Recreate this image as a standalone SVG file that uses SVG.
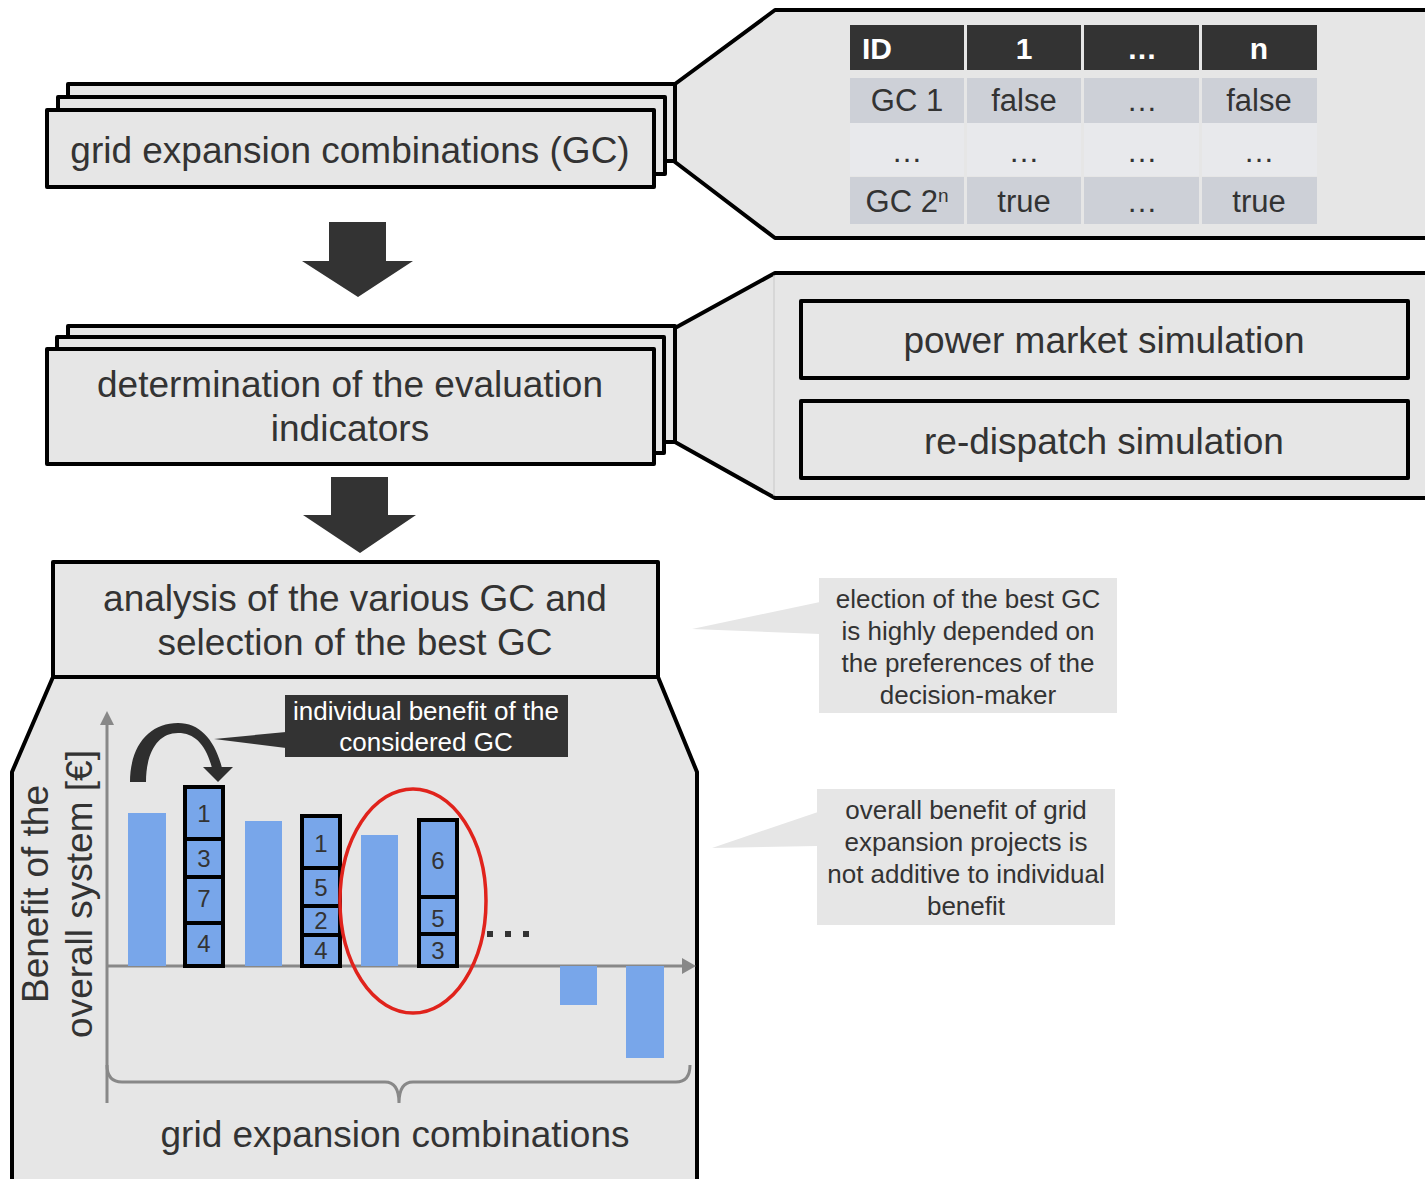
<svg xmlns="http://www.w3.org/2000/svg" width="1425" height="1179" viewBox="0 0 1425 1179">
<defs>
<style>
.box{fill:#e6e6e6;stroke:#000;stroke-width:4;stroke-linejoin:round}
.panel{fill:#e6e6e6;stroke:#000;stroke-width:4;stroke-linejoin:round}
.t36{font-family:"Liberation Sans",Arial,sans-serif;font-size:37px;fill:#333;text-anchor:middle}
.t30{font-family:"Liberation Sans",Arial,sans-serif;font-size:31px;fill:#333;text-anchor:middle}
.th{font-family:"Liberation Sans",Arial,sans-serif;font-size:30px;fill:#fff;font-weight:bold;text-anchor:middle}
.t24{font-family:"Liberation Sans",Arial,sans-serif;font-size:26px;fill:#333;text-anchor:middle}
.tn{font-family:"Liberation Sans",Arial,sans-serif;font-size:24px;fill:#333;text-anchor:middle}
.tw{font-family:"Liberation Sans",Arial,sans-serif;font-size:26px;fill:#fff;text-anchor:middle}
.bar{fill:#78a6ea}
.seg{fill:#78a6ea;stroke:#000;stroke-width:4}
.axis{stroke:#888;stroke-width:3;fill:none}
.darrow{fill:#333}
.hdr{fill:#333}
.r1{fill:#cdd0d7}
.r2{fill:#e8e9ec}
.call{fill:#e6e6e6}
</style>
</defs>

<!-- detail panels -->
<g id="panel-table">
<polygon class="panel" points="1430,10 775,10 675,84 675,162 775,238 1430,238"/>
<rect class="hdr" x="850" y="25" width="114" height="45"/>
<rect class="hdr" x="967" y="25" width="114" height="45"/>
<rect class="hdr" x="1084" y="25" width="115" height="45"/>
<rect class="hdr" x="1202" y="25" width="115" height="45"/>
<rect class="r1" x="850" y="78" width="114" height="45"/>
<rect class="r1" x="967" y="78" width="114" height="45"/>
<rect class="r1" x="1084" y="78" width="115" height="45"/>
<rect class="r1" x="1202" y="78" width="115" height="45"/>
<rect class="r2" x="850" y="123" width="114" height="53"/>
<rect class="r2" x="967" y="123" width="114" height="53"/>
<rect class="r2" x="1084" y="123" width="115" height="53"/>
<rect class="r2" x="1202" y="123" width="115" height="53"/>
<rect class="r1" x="850" y="177" width="114" height="47"/>
<rect class="r1" x="967" y="177" width="114" height="47"/>
<rect class="r1" x="1084" y="177" width="115" height="47"/>
<rect class="r1" x="1202" y="177" width="115" height="47"/>
<text class="th" x="862" y="59" style="text-anchor:start">ID</text>
<text class="th" x="1024" y="59">1</text>
<text class="th" x="1142" y="59">…</text>
<text class="th" x="1259" y="59">n</text>
<text class="t30" x="907" y="111">GC 1</text>
<text class="t30" x="1024" y="111">false</text>
<text class="t30" x="1142" y="111">…</text>
<text class="t30" x="1259" y="111">false</text>
<text class="t30" x="907" y="162">…</text>
<text class="t30" x="1024" y="162">…</text>
<text class="t30" x="1142" y="162">…</text>
<text class="t30" x="1259" y="162">…</text>
<text class="t30" x="907" y="212">GC 2<tspan font-size="19" dy="-10">n</tspan></text>
<text class="t30" x="1024" y="212">true</text>
<text class="t30" x="1142" y="212">…</text>
<text class="t30" x="1259" y="212">true</text>
</g>

<g id="panel-sim">
<polygon class="panel" points="1430,273 775,273 675,328 675,442 775,498 1430,498"/>
<line x1="774" y1="275" x2="774" y2="496" stroke="#c8c8c8" stroke-width="1"/>
</g>
<g id="power-market">
<rect class="box" x="801" y="301" width="607" height="77"/>
<text class="t36" x="1104" y="353">power market simulation</text>
</g>
<g id="re-dispatch">
<rect class="box" x="801" y="401" width="607" height="77"/>
<text class="t36" x="1104" y="454">re-dispatch simulation</text>
</g>

<!-- stack 1 -->
<g id="gc-node">
<rect class="box" x="68" y="84" width="607" height="77"/>
<rect class="box" x="58" y="97" width="607" height="77"/>
<rect class="box" x="47" y="110" width="607" height="77"/>
<text class="t36" x="350" y="163">grid expansion combinations (GC)</text>
</g>

<!-- stack 2 -->
<g id="indicators-node">
<rect class="box" x="68" y="326" width="607" height="116"/>
<rect class="box" x="57" y="337" width="607" height="116"/>
<rect class="box" x="47" y="349" width="607" height="115"/>
<text class="t36" x="350" y="397">determination of the evaluation</text>
<text class="t36" x="350" y="441">indicators</text>
</g>

<!-- bottom panel -->
<g id="analysis-panel">
<polygon class="panel" points="53,677 12,772 12,1190 697,1190 697,772 658,677"/>
</g>
<g id="analysis-node">
<rect class="box" x="53" y="562" width="605" height="115"/>
<text class="t36" x="355" y="611">analysis of the various GC and</text>
<text class="t36" x="355" y="655">selection of the best GC</text>
</g>

<!-- connectors -->
<g id="connectors">
<polygon class="darrow" points="329,222 386,222 386,261 413,261 358,297 302,261 329,261"/>
<polygon class="darrow" points="331,477 388,477 388,515 416,515 360,553 303,515 331,515"/>
</g>

<!-- chart -->
<g id="chart">
<line class="axis" x1="107" y1="722" x2="107" y2="1103"/>
<polygon fill="#888" points="100,725 114,725 107,711"/>
<line class="axis" x1="107" y1="966" x2="684" y2="966"/>
<polygon fill="#888" points="682,958 682,974 696,966"/>
<path class="axis" d="M107,1065 Q107,1082 122,1082 L385,1082 Q399,1082 399,1103 Q399,1082 413,1082 L676,1082 Q690,1082 690,1065"/>

<rect class="bar" x="128" y="813" width="38" height="153"/>
<rect class="bar" x="245" y="821" width="37" height="145"/>
<rect class="bar" x="361" y="835" width="37" height="131"/>
<rect class="bar" x="560" y="966" width="37" height="39"/>
<rect class="bar" x="626" y="966" width="38" height="92"/>

<g id="stack-a">
<rect class="seg" x="185" y="787" width="38" height="52"/>
<rect class="seg" x="185" y="839" width="38" height="38"/>
<rect class="seg" x="185" y="877" width="38" height="46"/>
<rect class="seg" x="185" y="923" width="38" height="43"/>
<text class="tn" x="204" y="822">1</text>
<text class="tn" x="204" y="867">3</text>
<text class="tn" x="204" y="907">7</text>
<text class="tn" x="204" y="952">4</text>
</g>
<g id="stack-b">
<rect class="seg" x="302" y="816" width="38" height="52"/>
<rect class="seg" x="302" y="868" width="38" height="38"/>
<rect class="seg" x="302" y="906" width="38" height="29"/>
<rect class="seg" x="302" y="935" width="38" height="31"/>
<text class="tn" x="321" y="852">1</text>
<text class="tn" x="321" y="896">5</text>
<text class="tn" x="321" y="929">2</text>
<text class="tn" x="321" y="959">4</text>
</g>
<g id="stack-c">
<rect class="seg" x="419" y="820" width="38" height="77"/>
<rect class="seg" x="419" y="897" width="38" height="37"/>
<rect class="seg" x="419" y="934" width="38" height="32"/>
<text class="tn" x="438" y="869">6</text>
<text class="tn" x="438" y="927">5</text>
<text class="tn" x="438" y="959">3</text>
</g>

<rect x="487" y="931" width="6" height="6" fill="#333"/>
<rect x="505" y="931" width="6" height="6" fill="#333"/>
<rect x="523" y="931" width="6" height="6" fill="#333"/>

<ellipse cx="413" cy="901" rx="73" ry="112" fill="none" stroke="#e0231c" stroke-width="3.5"/>

<text class="t36" transform="translate(48,894) rotate(-90)">Benefit of the</text>
<text class="t36" transform="translate(92,894) rotate(-90)">overall system [€]</text>

<text class="t36" x="395" y="1147">grid expansion combinations</text>
</g>

<!-- curved arrow + dark callout -->
<g id="individual-callout">
<path fill="#2e2e2e" d="M130,782 C130,745 150,723 178,723 C200,723 215,740 222,768 L212,768 C206,745 195,733 178,733 C158,733 146,752 146,782 Z"/>
<polygon fill="#2e2e2e" points="203,767 233,767 218,782"/>
<polygon fill="#333" points="286,732 286,748 214,739"/>
<rect x="285" y="695" width="283" height="62" fill="#333"/>
<text class="tw" x="426" y="720">individual benefit of the</text>
<text class="tw" x="426" y="751">considered GC</text>
</g>

<!-- right callouts -->
<g id="callout-election">
<polygon class="call" points="820,602 820,634 692,629"/>
<rect class="call" x="819" y="578" width="298" height="135"/>
<text class="t24" x="968" y="608">election of the best GC</text>
<text class="t24" x="968" y="640">is highly depended on</text>
<text class="t24" x="968" y="672">the preferences of the</text>
<text class="t24" x="968" y="704">decision-maker</text>
</g>
<g id="callout-overall">
<polygon class="call" points="818,812 818,846 712,848"/>
<rect class="call" x="817" y="789" width="298" height="136"/>
<text class="t24" x="966" y="819">overall benefit of grid</text>
<text class="t24" x="966" y="851">expansion projects is</text>
<text class="t24" x="966" y="883">not additive to individual</text>
<text class="t24" x="966" y="915">benefit</text>
</g>
</svg>
